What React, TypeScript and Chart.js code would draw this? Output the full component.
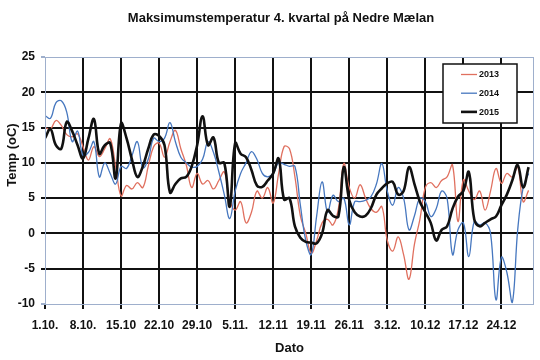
import React, { useEffect, useRef } from 'react';
import { Chart, registerables } from 'chart.js';

Chart.register(...registerables);

// Series names (legend)
const seriesNames = ['2013', '2014', '2015'];

// Daily maximum temperature, 1 Oct (day 0) .. 29 Dec (day 89)
const t2013 = [
  15.0, 14.8, 16.0, 15.3, 14.0, 13.7, 14.1, 12.3, 10.4, 12.3,
  10.9, 12.0, 13.4, 9.5, 5.3, 6.8, 6.3, 7.2, 6.5, 9.5,
  12.3, 12.8, 10.8, 13.0, 14.6, 12.0, 9.7, 6.5, 8.5, 7.0,
  7.5, 6.3, 7.5, 8.7, 4.7, 3.3, 4.5, 1.5, 3.0, 6.0,
  5.0, 6.5, 4.3, 8.5, 12.3, 12.0, 8.0, 2.5, 0.0, -2.8,
  -1.0, 1.5, 2.0, 1.2, 3.5, 9.9, 6.5, 5.0, 6.9, 5.0,
  3.5, 3.0, 3.8, -1.0, -2.5, -0.5, -3.0, -6.5, -1.5, 2.0,
  6.5, 7.2, 6.5, 7.5, 8.0, 9.7, 1.7, 7.6, 6.0, 4.8,
  6.0, 3.3, 6.0, 9.2, 7.1, 8.5, 8.0, 9.4, 4.5, 6.1,
];

const t2014 = [
  16.7, 16.3, 18.5, 18.8, 17.2, 13.0, 14.5, 11.0, 11.5, 13.0,
  8.0, 10.0, 8.5, 7.0, 9.5, 9.2, 11.0, 13.0, 9.3, 10.5,
  13.5, 13.0, 13.5, 15.7, 13.0, 10.8, 10.0, 9.4, 9.5, 10.5,
  13.0, 11.5, 8.7, 5.5, 2.1, 6.0, 8.5, 10.0, 11.6, 10.5,
  8.5, 8.0, 8.5, 10.0, 9.8, 9.5, 9.5, 4.0, -1.0, -3.0,
  2.5, 7.3, 3.0, 5.4, 4.5, 5.0, 1.2, 4.5, 4.5, 4.7,
  5.2, 7.0, 9.9, 6.0, 4.0, 6.5, 5.0, 0.5, 2.5, 5.0,
  4.5, 2.4, 3.5, 6.0, 5.0, -3.0, 0.5, 1.5, -3.3, 1.7,
  1.2, 1.5, 0.0, -9.4, -3.4, -5.5, -9.8, 0.5, 6.5, 8.5,
];

const t2015 = [
  13.5, 14.8, 12.5, 12.0, 15.8, 14.5, 12.5, 10.6, 13.5, 16.2,
  11.3, 12.5, 12.8, 7.8, 15.6, 13.5, 10.5, 8.0, 9.5, 12.0,
  14.0, 13.8, 12.5, 5.8, 7.0, 7.8, 8.0, 9.5, 12.5, 16.6,
  12.5, 13.6, 10.0, 10.0, 3.8, 12.8, 11.3, 10.8, 9.0, 6.8,
  6.6, 7.5, 8.5, 10.6, 4.8, 5.0, 1.0, -0.6, -1.2, -1.3,
  -1.4, 0.0, 3.3, 2.5, 2.4, 9.4, 4.7, 3.0, 2.4, 2.5,
  3.6, 5.5, 6.4, 7.1, 7.3, 5.5, 6.0, 9.4, 7.0, 4.5,
  3.0, 1.5, -1.0, 0.5, 1.0, 3.5, 5.2, 6.0, 8.7, 2.0,
  1.0, 1.5, 2.0, 2.4, 4.0, 5.5, 7.5, 9.7, 6.5, 9.4,
];

// X-axis ticks (day index) and their labels
const tickDays = [0, 7, 14, 21, 28, 35, 42, 49, 56, 63, 70, 77, 84];
const tickLabels = ['1.10.', '8.10.', '15.10', '22.10', '29.10', '5.11.', '12.11', '19.11', '26.11', '3.12.', '10.12', '17.12', '24.12'];
const yTicks = [-10, -5, 0, 5, 10, 15, 20, 25];

const titleText = 'Maksimumstemperatur 4. kvartal på Nedre Mælan';
const xTitle = 'Dato';
const yTitle = 'Temp (oC)';

const FONT = "'Liberation Sans', Arial, Helvetica, sans-serif";
const BORDER = '#9eafcc';

export default function App() {
  const ref = useRef<HTMLCanvasElement>(null);

  useEffect(() => {
    if (!ref.current) return;
    const toPts = (arr: number[]) => arr.map((v, i) => ({ x: i, y: v }));

    const decorations = {
      id: 'decorations',
      beforeDraw(chart: any) {
        const { ctx } = chart;
        ctx.save();
        ctx.fillStyle = '#ffffff';
        ctx.fillRect(0, 0, chart.width, chart.height);
        ctx.restore();
      },
      afterDatasetsDraw(chart: any) {
        const { ctx, chartArea: a } = chart;
        ctx.save();
        // plot border
        ctx.strokeStyle = BORDER;
        ctx.lineWidth = 1;
        ctx.strokeRect(Math.round(a.left) + 0.5, Math.round(a.top) + 0.5, Math.round(a.right - a.left) - 1, Math.round(a.bottom - a.top));
        // legend
        const lx = 443, ly = 64, lw = 74, lh = 59;
        ctx.fillStyle = '#ffffff';
        ctx.fillRect(lx, ly, lw, lh);
        ctx.strokeStyle = '#111';
        ctx.lineWidth = 1.5;
        ctx.strokeRect(lx, ly, lw, lh);
        chart.data.datasets.forEach((ds: any, i: number) => {
          const y = ly + 10.5 + i * 18.7;
          ctx.strokeStyle = ds.borderColor;
          ctx.lineWidth = ds.borderWidth;
          ctx.beginPath();
          ctx.moveTo(461, y);
          ctx.lineTo(477, y);
          ctx.stroke();
          ctx.fillStyle = '#111';
          ctx.font = `bold 9px ${FONT}`;
          ctx.textAlign = 'left';
          ctx.textBaseline = 'middle';
          ctx.fillText(ds.label, 479, y + 0.5);
        });
        ctx.restore();
      },
      afterDraw(chart: any) {
        const { ctx, chartArea: a } = chart;
        ctx.save();
        ctx.fillStyle = '#111';
        ctx.textAlign = 'center';
        ctx.textBaseline = 'middle';
        ctx.font = `bold 13px ${FONT}`;
        ctx.fillText(titleText, 281, 18.5);
        ctx.fillText(xTitle, (a.left + a.right) / 2, 348);
        ctx.translate(12, 155);
        ctx.rotate(-Math.PI / 2);
        ctx.fillText(yTitle, 0, 0);
        ctx.restore();
      },
    };

    const chart = new Chart(ref.current, {
      type: 'line',
      data: {
        datasets: [
          { label: seriesNames[0], data: toPts(t2013), borderColor: '#e0705f', borderWidth: 1.3, order: 2 },
          { label: seriesNames[1], data: toPts(t2014), borderColor: '#4677bf', borderWidth: 1.3, order: 1 },
          { label: seriesNames[2], data: toPts(t2015), borderColor: '#111111', borderWidth: 2.6, order: 0 },
        ].map((d) => ({ ...d, pointRadius: 0, tension: 0.4, fill: false })),
      },
      options: {
        responsive: false,
        animation: false,
        devicePixelRatio: 1,
        layout: { padding: { top: 57, right: 6, left: 0, bottom: 0 } },
        plugins: {
          legend: { display: false },
          title: { display: false },
          tooltip: { enabled: false },
        },
        scales: {
          x: {
            type: 'linear',
            min: 0,
            max: 90,
            afterBuildTicks: (scale: any) => {
              scale.ticks = tickDays.map((v) => ({ value: v }));
            },
            afterFit: (scale: any) => {
              scale.height = 56;
            },
            ticks: {
              autoSkip: false,
              maxRotation: 0,
              minRotation: 0,
              padding: 9,
              color: '#111',
              font: { family: FONT, size: 12, weight: 'bold' },
              callback: (v: any) => {
                const i = tickDays.indexOf(Number(v));
                return i >= 0 ? tickLabels[i] : '';
              },
            },
            grid: {
              color: (c: any) => (c.tick && c.tick.value === 0 ? 'rgba(0,0,0,0)' : '#111'),
              tickColor: '#111',
              lineWidth: 2,
              tickLength: 5,
            },
            border: { display: false },
          },
          y: {
            type: 'linear',
            min: -10,
            max: 25,
            afterBuildTicks: (scale: any) => {
              scale.ticks = yTicks.map((v) => ({ value: v }));
            },
            afterFit: (scale: any) => {
              scale.width = 45;
            },
            ticks: {
              padding: 6,
              color: '#111',
              font: { family: FONT, size: 12, weight: 'bold' },
            },
            grid: {
              color: (c: any) => (c.tick && (c.tick.value === 25 || c.tick.value === -10) ? 'rgba(0,0,0,0)' : '#111'),
              tickColor: (c: any) => (c.tick && (c.tick.value === 25 || c.tick.value === -10) ? BORDER : '#111'),
              lineWidth: 2,
              tickLength: 4,
            },
            border: { display: false },
          },
        },
      },
      plugins: [decorations],
    } as any);

    return () => chart.destroy();
  }, []);

  return (
    <div style={{ position: 'absolute', left: 0, top: 0, width: 540, height: 360, background: '#fff' }}>
      <canvas ref={ref} width={540} height={360} style={{ width: 540, height: 360, display: 'block' }} />
    </div>
  );
}
